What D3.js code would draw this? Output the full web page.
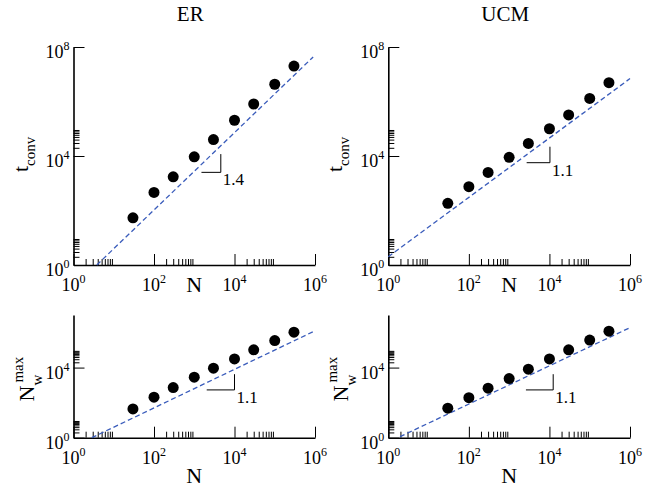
<!DOCTYPE html>
<html>
<head>
<meta charset="utf-8">
<script src="https://cdn.jsdelivr.net/npm/d3@7"></script>
<style>
body { margin: 0; background: #fff; }
svg text { font-family: "Liberation Serif", "Times New Roman", "DejaVu Serif", serif; }
</style>
</head>
<body>
<div id="chart"></div>
<script>
// system sizes N, shared by all four panels
const sizes = [30, 100, 300, 1000, 3000, 1e4, 3e4, 1e5, 3e5];

// convergence time and max number of words
const tconvER  = [54, 460, 1720, 9300, 40000, 2.05e5, 8.1e5, 4.3e6, 2.0e7];
const tconvUCM = [184, 750, 2500, 8950, 29000, 1.0e5, 3.2e5, 1.3e6, 4.9e6];
const nwER     = [44, 204, 720, 2830, 9200, 31400, 1.03e5, 3.5e5, 1.05e6];
const nwUCM    = [48, 193, 665, 2350, 8100, 31400, 1.03e5, 3.7e5, 1.2e6];

// dashed guides y = c * N^a : [a, c, N from, N to]
const fitTconvER  = [1.42, 0.151, 3.8, 9e5];
const fitTconvUCM = [1.09, 2.0, 1, 1e6];
const fitNwER     = [1.10, 0.316, 2.85, 1e6];
const fitNwUCM    = [1.09, 0.55, 1.95, 1e6];

// slope triangles: [N left, N corner, y corner, y top, label]
const slopeTconvER  = [1510, 4570, 2510, 11750, '1.4'];
const slopeTconvUCM = [2720, 10300, 5680, 21900, '1.1'];
const slopeNwER     = [2040, 10000, 532, 4200, '1.1'];
const slopeNwUCM    = [2610, 12400, 532, 4200, '1.1'];

const titles = ['ER', 'UCM'];
const xMajor = [1, 1e2, 1e4, 1e6];
const tconvMajor = [1, 1e4, 1e8];
const nwMajor = [1, 1e4];
const xMinorBases = [1, 1e2, 1e4];
const yMinorBases = [1, 1e4];

function minorTicks(bases) {
    let out = [];
    bases.forEach(b => { for (let k = 2; k <= 9; k++) out.push(k * b); });
    return out;
}

let svg = d3.select('#chart').append('svg')
    .attr('width', 663).attr('height', 489)
    .attr('font-family', '"Liberation Serif", "Times New Roman", serif');

const cols = [{left: 73.5, right: 315}, {left: 388.3, right: 630}];
const rows = [{bottom: 265, top: 47, yTop: 1e8, major: tconvMajor},
              {bottom: 437.7, top: 315, yTop: 1e7, major: nwMajor}];

function drawPanel(ci, ri, values, fit, slope) {
    let c = cols[ci], r = rows[ri];
    let x = d3.scaleLog().domain([1, 1e6]).range([c.left, c.right]);
    let y = d3.scaleLog().domain([1, r.yTop]).range([r.bottom, r.top]);
    let g = svg.append('g');

    // minor ticks, inward
    g.append('g').attr('transform', 'translate(0,' + r.bottom + ')')
        .call(d3.axisBottom(x).tickValues(minorTicks(xMinorBases)).tickSizeInner(-6).tickSizeOuter(0).tickFormat(''))
        .call(a => a.select('.domain').remove());
    g.append('g').attr('transform', 'translate(' + c.left + ',0)')
        .call(d3.axisLeft(y).tickValues(minorTicks(yMinorBases)).tickSizeInner(-6).tickSizeOuter(0).tickFormat(''))
        .call(a => a.select('.domain').remove());

    // major ticks + axis lines
    g.append('g').attr('transform', 'translate(0,' + r.bottom + ')')
        .call(d3.axisBottom(x).tickValues(xMajor).tickSizeInner(-11).tickSizeOuter(0).tickFormat(''))
        .call(a => a.select('.domain').attr('stroke-width', 1.6));
    g.append('g').attr('transform', 'translate(' + c.left + ',0)')
        .call(d3.axisLeft(y).tickValues(r.major).tickSizeInner(-11).tickSizeOuter(0).tickFormat(''))
        .call(a => a.select('.domain').attr('stroke-width', 1.6));

    // tick labels 10^k
    xMajor.forEach(v => {
        let t = g.append('text').attr('x', x(v)).attr('y', r.bottom + 26)
            .attr('text-anchor', 'middle').attr('font-size', 18);
        t.append('tspan').text('10');
        t.append('tspan').attr('font-size', 12).attr('dy', -8).text(Math.round(Math.log10(v)));
    });
    r.major.forEach(v => {
        let t = g.append('text').attr('x', c.left - 4).attr('y', y(v) + 11)
            .attr('text-anchor', 'end').attr('font-size', 18);
        t.append('tspan').text('10');
        t.append('tspan').attr('font-size', 12).attr('dy', -8).text(Math.round(Math.log10(v)));
    });

    // x title
    g.append('text').attr('x', (c.left + c.right) / 2)
        .attr('y', ri === 0 ? r.bottom + 27 : r.bottom + 45.5)
        .attr('text-anchor', 'middle').attr('font-size', 22).text('N');

    // y title
    if (ri === 0) {
        let t = g.append('text')
            .attr('transform', 'translate(' + (c.left - 46) + ',' + (y(1e4) + 16) + ') rotate(-90)')
            .attr('font-size', 22);
        t.append('tspan').text('t');
        t.append('tspan').attr('font-size', 15).attr('dy', 7).text('conv');
        g.append('text').attr('x', (c.left + c.right) / 2 - 4).attr('y', 21)
            .attr('text-anchor', 'middle').attr('font-size', 21).text(titles[ci]);
    } else {
        let lg = g.append('g')
            .attr('transform', 'translate(' + (c.left - 40) + ',' + (y(1e4) + 34) + ') rotate(-90)');
        lg.append('text').attr('font-size', 22).text('N');
        lg.append('text').attr('x', 16).attr('y', 8).attr('font-size', 15).text('w');
        lg.append('text').attr('x', 19).attr('y', -11).attr('font-size', 15).text('max');
    }

    // dashed power-law guide
    let ends = [fit[2], fit[3]].map(n => [n, fit[1] * Math.pow(n, fit[0])]);
    g.append('path')
        .attr('d', d3.line().x(d => x(d[0])).y(d => y(d[1]))(ends))
        .attr('fill', 'none').attr('stroke', '#3a5cbb').attr('stroke-width', 1.3)
        .attr('stroke-dasharray', '5,3');

    // slope triangle
    let tri = [[slope[0], slope[2]], [slope[1], slope[2]], [slope[1], slope[3]]];
    g.append('path')
        .attr('d', d3.line().x(d => x(d[0])).y(d => y(d[1]))(tri))
        .attr('fill', 'none').attr('stroke', '#000').attr('stroke-width', 1);
    g.append('text').attr('x', x(slope[1]) + 2).attr('y', y(slope[2]) + 13)
        .attr('font-size', 17).text(slope[4]);

    // data points
    g.selectAll('circle.pt').data(sizes).enter().append('circle')
        .attr('class', 'pt')
        .attr('cx', d => x(d))
        .attr('cy', (d, i) => y(values[i]))
        .attr('r', 5.5)
        .attr('fill', '#000');
}

drawPanel(0, 0, tconvER, fitTconvER, slopeTconvER);
drawPanel(1, 0, tconvUCM, fitTconvUCM, slopeTconvUCM);
drawPanel(0, 1, nwER, fitNwER, slopeNwER);
drawPanel(1, 1, nwUCM, fitNwUCM, slopeNwUCM);
</script>
</body>
</html>
